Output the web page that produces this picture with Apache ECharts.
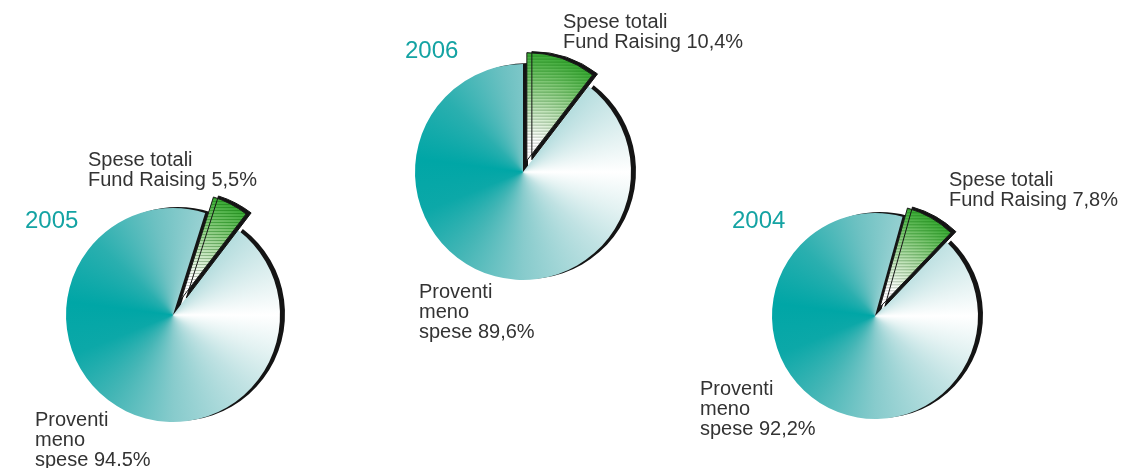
<!DOCTYPE html>
<html>
<head>
<meta charset="utf-8">
<title>Spese totali Fund Raising</title>
<script src="https://cdn.jsdelivr.net/npm/echarts@6/dist/echarts.min.js"></script>
<style>
  html, body { margin: 0; padding: 0; background: #ffffff; }
  #chart { width: 1124px; height: 468px; }
</style>
</head>
<body>
<div id="chart"></div>
<script>
// Anni mostrati, da sinistra a destra
const years = ['2005', '2006', '2004'];
// Quota delle spese totali di fund raising (%)
const fundRaising = [5.5, 10.4, 7.8];
// Quota dei proventi meno spese (%)
const proventi = [94.5, 89.6, 92.2];
// Separatore decimale usato in ciascuna etichetta
const fundRaisingSep = [',', ',', ','];
const proventiSep = ['.', ',', ','];
// Testi delle etichette
const fundRaisingText = 'Spese totali\nFund Raising';
const proventiText = 'Proventi\nmeno\nspese';

const W = 1124, H = 468;

// Posizione e dimensione di ciascuna torta (split = angolo, in gradi dalle ore 12, dove inizia lo spicchio verde)
const pies = [
  { cx: 173, cy: 315, r: 107, split: 17.5, offset: 18, yearAt: [25, 209],  fundAt: [88, 150],  provAt: [35, 410] },
  { cx: 523, cy: 172, r: 108, split: 0,    offset: 12, yearAt: [405, 39],  fundAt: [563, 12],  provAt: [419, 282] },
  { cx: 875, cy: 316, r: 103, split: 15.5, offset: 10, yearAt: [732, 209], fundAt: [949, 170], provAt: [700, 379] }
];

// Sfumatura conica del petrolio: bianco a ore 3, scuro a ore 9 (senso orario)
const tealStops = [
  [0.00, '#ffffff'],
  [0.06, '#e3f2f2'],
  [0.125, '#c0e2e3'],
  [0.25, '#87cbcc'],
  [0.35, '#45b6b6'],
  [0.44, '#0ca8a8'],
  [0.52, '#00a6a6'],
  [0.62, '#2aafaf'],
  [0.72, '#6dc1c2'],
  [0.80, '#98d1d2'],
  [0.88, '#c3e3e4'],
  [0.95, '#e6f3f3'],
  [1.00, '#ffffff']
];

function hexToRgb(h) {
  const n = parseInt(h.slice(1), 16);
  return [(n >> 16) & 255, (n >> 8) & 255, n & 255];
}
function stopColor(t) {
  for (let k = 1; k < tealStops.length; k++) {
    const [t1, c1] = tealStops[k];
    const [t0, c0] = tealStops[k - 1];
    if (t <= t1) {
      const f = (t - t0) / (t1 - t0 || 1);
      const a = hexToRgb(c0), b = hexToRgb(c1);
      return 'rgb(' + a.map((v, j) => Math.round(v + (b[j] - v) * f)).join(',') + ')';
    }
  }
  return tealStops[tealStops.length - 1][1];
}

// Texture for the large slices: one conic gradient centred on each pie
function buildTealTexture() {
  const c = document.createElement('canvas');
  c.width = W; c.height = H;
  const ctx = c.getContext('2d');
  pies.forEach(p => {
    ctx.save();
    ctx.beginPath();
    ctx.arc(p.cx, p.cy, p.r + 4, 0, Math.PI * 2);
    ctx.clip();
    if (typeof ctx.createConicGradient === 'function') {
      const g = ctx.createConicGradient(0, p.cx, p.cy);
      tealStops.forEach(s => g.addColorStop(s[0], s[1]));
      ctx.fillStyle = g;
      ctx.fillRect(p.cx - p.r - 6, p.cy - p.r - 6, 2 * p.r + 12, 2 * p.r + 12);
    } else {
      const steps = 720;
      for (let s = 0; s < steps; s++) {
        const a0 = s / steps * Math.PI * 2, a1 = (s + 1.5) / steps * Math.PI * 2;
        ctx.beginPath();
        ctx.moveTo(p.cx, p.cy);
        ctx.arc(p.cx, p.cy, p.r + 6, a0, a1);
        ctx.closePath();
        ctx.fillStyle = stopColor(s / steps);
        ctx.fill();
      }
    }
    ctx.restore();
  });
  return c;
}

// Texture for the small slices: green fading to white towards the centre, with fine horizontal hatching
function buildGreenTexture() {
  const c = document.createElement('canvas');
  c.width = W; c.height = H;
  const ctx = c.getContext('2d');
  pies.forEach(p => {
    const R = p.r + p.offset + 6;
    ctx.save();
    ctx.beginPath();
    ctx.arc(p.cx, p.cy, R, 0, Math.PI * 2);
    ctx.clip();
    const bg = ctx.createRadialGradient(p.cx, p.cy, 0, p.cx, p.cy, p.r);
    bg.addColorStop(0, '#ffffff');
    bg.addColorStop(0.2, '#ffffff');
    bg.addColorStop(0.45, '#cae7c3');
    bg.addColorStop(0.72, '#86c97b');
    bg.addColorStop(1, '#3aa935');
    ctx.fillStyle = bg;
    ctx.fillRect(p.cx - R, p.cy - R, 2 * R, 2 * R);
    const lines = ctx.createRadialGradient(p.cx, p.cy, 0, p.cx, p.cy, p.r);
    lines.addColorStop(0, 'rgba(130,130,130,0)');
    lines.addColorStop(0.12, 'rgba(130,130,130,0.4)');
    lines.addColorStop(0.45, 'rgba(100,150,95,0.6)');
    lines.addColorStop(0.8, 'rgba(50,150,45,0.75)');
    lines.addColorStop(1, 'rgba(35,140,30,0.85)');
    ctx.fillStyle = lines;
    for (let y = p.cy - R; y < p.cy + R; y += 3) {
      ctx.fillRect(p.cx - R, y, 2 * R, 1);
    }
    ctx.restore();
  });
  return c;
}

const tealTexture = buildTealTexture();
const greenTexture = buildGreenTexture();

function fmt(v, sep) {
  return v.toFixed(1).replace('.', sep) + '%';
}

const series = pies.map((p, i) => {
  const total = fundRaising[i] + proventi[i];
  const greenSweep = fundRaising[i] / total * 360;
  return {
    type: 'pie',
    name: years[i],
    center: [p.cx, p.cy],
    radius: p.r,
    clockwise: true,
    startAngle: 90 - p.split - greenSweep,
    selectedMode: 'single',
    selectedOffset: p.offset,
    animation: false,
    silent: true,
    emphasis: { disabled: true },
    label: { show: false },
    labelLine: { show: false },
    itemStyle: {
      shadowColor: '#141414',
      shadowBlur: 0,
      shadowOffsetX: 5,
      shadowOffsetY: -1
    },
    data: [
      {
        name: 'Proventi meno spese',
        value: proventi[i],
        itemStyle: { color: { image: tealTexture, repeat: 'no-repeat' } }
      },
      {
        name: 'Spese totali Fund Raising',
        value: fundRaising[i],
        selected: true,
        itemStyle: {
          color: { image: greenTexture, repeat: 'no-repeat' },
          borderColor: '#1a1a1a',
          borderWidth: 1
        }
      }
    ]
  };
});

const textFont = "'Liberation Sans', Arial, Helvetica, sans-serif";
const graphics = [];
pies.forEach((p, i) => {
  graphics.push({
    type: 'text', x: p.yearAt[0], y: p.yearAt[1], silent: true,
    style: { text: years[i], fill: '#14a3a3', fontSize: 24, fontFamily: textFont, lineHeight: 24 }
  });
  graphics.push({
    type: 'text', x: p.fundAt[0], y: p.fundAt[1], silent: true,
    style: { text: fundRaisingText + ' ' + fmt(fundRaising[i], fundRaisingSep[i]), fill: '#333333', fontSize: 20, fontFamily: textFont, lineHeight: 20 }
  });
  graphics.push({
    type: 'text', x: p.provAt[0], y: p.provAt[1], silent: true,
    style: { text: proventiText + ' ' + fmt(proventi[i], proventiSep[i]), fill: '#333333', fontSize: 20, fontFamily: textFont, lineHeight: 20 }
  });
});

const chart = echarts.init(document.getElementById('chart'), null, { renderer: 'canvas' });
chart.setOption({
  backgroundColor: '#ffffff',
  animation: false,
  series: series,
  graphic: graphics
});
</script>
</body>
</html>
